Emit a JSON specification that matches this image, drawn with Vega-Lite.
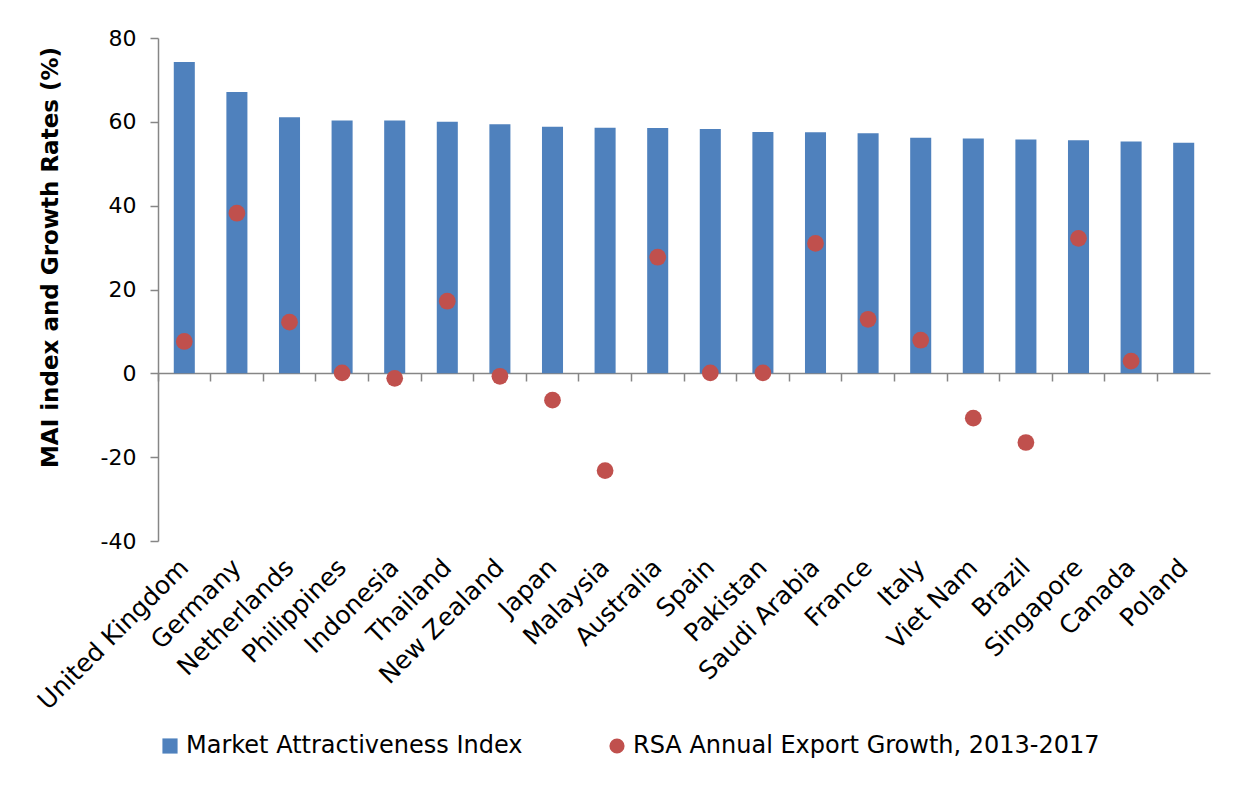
{
  "$schema": "https://vega.github.io/schema/vega-lite/v6.json",
  "autosize": "none",
  "width": 1052,
  "height": 503,
  "padding": {"left": 158, "top": 38, "right": 25, "bottom": 255},
  "background": "white",
  "config": {
    "font": "DejaVu Sans",
    "view": {"stroke": null},
    "axis": {"grid": false, "domainColor": "#868686", "tickColor": "#868686", "labelColor": "#000000", "titleColor": "#000000", "domainWidth": 1.5, "tickWidth": 1.5}
  },
  "data": {
    "values": [
      {"country": "United Kingdom", "mai": 74.3, "growth": 7.6},
      {"country": "Germany", "mai": 67.1, "growth": 38.2},
      {"country": "Netherlands", "mai": 61.1, "growth": 12.2},
      {"country": "Philippines", "mai": 60.3, "growth": 0.1},
      {"country": "Indonesia", "mai": 60.3, "growth": -1.2},
      {"country": "Thailand", "mai": 60.0, "growth": 17.2},
      {"country": "New Zealand", "mai": 59.4, "growth": -0.7},
      {"country": "Japan", "mai": 58.8, "growth": -6.4},
      {"country": "Malaysia", "mai": 58.6, "growth": -23.2},
      {"country": "Australia", "mai": 58.5, "growth": 27.7},
      {"country": "Spain", "mai": 58.3, "growth": 0.1},
      {"country": "Pakistan", "mai": 57.6, "growth": 0.1},
      {"country": "Saudi Arabia", "mai": 57.5, "growth": 31.0},
      {"country": "France", "mai": 57.3, "growth": 12.9},
      {"country": "Italy", "mai": 56.2, "growth": 7.9},
      {"country": "Viet Nam", "mai": 56.0, "growth": -10.7},
      {"country": "Brazil", "mai": 55.8, "growth": -16.5},
      {"country": "Singapore", "mai": 55.6, "growth": 32.2},
      {"country": "Canada", "mai": 55.3, "growth": 2.9},
      {"country": "Poland", "mai": 55.0, "growth": null}
    ]
  },
  "resolve": {"axis": {"x": "independent"}},
  "layer": [
    {
      "mark": {"type": "bar", "color": "#4F81BD"},
      "encoding": {
        "x": {
          "field": "country", "type": "nominal", "sort": null,
          "scale": {"paddingInner": 0.6, "paddingOuter": 0.3},
          "axis": {"title": null, "domain": false, "ticks": false, "labelAngle": -45, "labelAlign": "right", "labelBaseline": "middle", "labelFontSize": 25, "labelPadding": 22, "labelLimit": 400}
        },
        "y": {
          "field": "mai", "type": "quantitative",
          "scale": {"domain": [-40, 80], "nice": false},
          "axis": {"title": "MAI index and Growth Rates (%)", "titleFontSize": 23, "titleFontWeight": "bold", "titlePadding": 38, "titleY": 219, "values": [-40, -20, 0, 20, 40, 60, 80], "labelExpr": "replace(datum.label, '\u2212', '-')", "labelFontSize": 22, "labelPadding": 14, "tickSize": 8}
        },
        "color": {
          "datum": "Market Attractiveness Index",
          "scale": {"domain": ["Market Attractiveness Index", "RSA Annual Export Growth, 2013-2017"], "range": ["#4F81BD", "#C0504D"]},
          "legend": {
            "title": null, "orient": "bottom", "direction": "horizontal", "labelFontSize": 24, "labelLimit": 800, "symbolSize": 230, "columnPadding": 82, "offset": 19, "labelColor": "#000000",
            "encode": {"symbols": {"update": {"shape": {"signal": "datum.value === 'Market Attractiveness Index' ? 'square' : 'circle'"}, "fill": {"scale": "color", "field": "value"}, "stroke": {"value": "transparent"}}}}
          }
        }
      }
    },
    {
      "mark": {"type": "point", "filled": true, "size": 280, "opacity": 1},
      "encoding": {
        "x": {
          "field": "country", "type": "nominal", "sort": null,
          "axis": {"title": null, "orient": "bottom", "labels": false, "ticks": true, "tickSize": 8, "domain": true, "offset": -168, "bandPosition": -0.75}
        },
        "y": {
          "field": "growth", "type": "quantitative",
          "axis": {"title": "MAI index and Growth Rates (%)", "titleFontSize": 23, "titleFontWeight": "bold", "titlePadding": 38, "titleY": 219, "values": [-40, -20, 0, 20, 40, 60, 80], "labelExpr": "replace(datum.label, '\u2212', '-')", "labelFontSize": 22, "labelPadding": 14, "tickSize": 8}
        },
        "color": {"datum": "RSA Annual Export Growth, 2013-2017"}
      }
    }
  ]
}
